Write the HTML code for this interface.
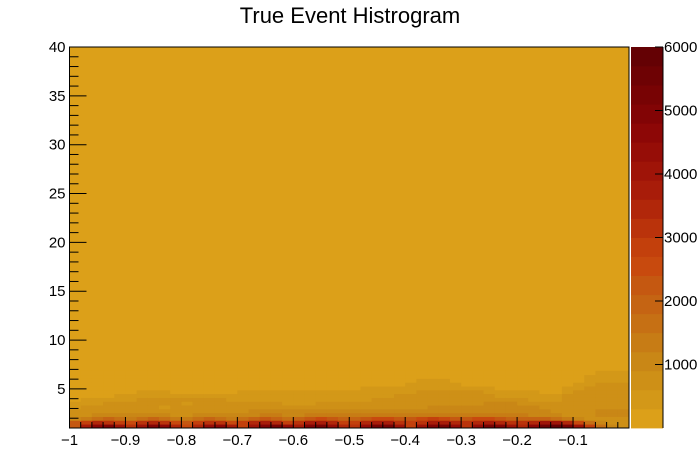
<!DOCTYPE html>
<html><head><meta charset="utf-8"><style>
html,body{margin:0;padding:0;background:#fff;}
svg{display:block;font-family:"Liberation Sans",sans-serif;}
</style></head><body>
<svg id="c" width="698" height="476" viewBox="0 0 698 476">
<text x="350" y="23" font-size="22" text-anchor="middle">True Event Histrogram</text>
<g id="cells"></g>
<g id="axes"></g>
<g id="pal"></g>
</svg>
<script>
// data: y bins of 0.39 starting at y=1, x bins of 0.02 from -1 to 0; values are palette levels (x300 counts)
const xBinEdges = [-1, 0];
const yRange = [1, 40];
const zRange = [0, 6000];
const xTicks = [-1,-0.9,-0.8,-0.7,-0.6,-0.5,-0.4,-0.3,-0.2,-0.1];
const xTickLabels = ["\u22121","\u22120.9","\u22120.8","\u22120.7","\u22120.6","\u22120.5","\u22120.4","\u22120.3","\u22120.2","\u22120.1"];
const yTicks = [5,10,15,20,25,30,35,40];
const zTicks = [1000,2000,3000,4000,5000,6000];
const row0 = [7,12,15,16,13, 10,13,16,15,11, 8,11,14,15,12, 9,13,16,17,14, 12,16,17,14,11, 10,14,17,17,13, 9,13,16,17,14, 10,14,17,16,13, 11,15,18,19,17, 13,9,5,3,2];
const row1 = [7,9,11,10,9, 8,10,11,10,8, 7,9,10,10,8, 9,11,12,11,9, 10,12,12,11,9, 9,11,12,12,10, 9,10,12,12,11, 10,11,12,11,10, 10,11,13,13,11, 8,5,3,2,2];
const row2 = [3,4,5,6,5, 4,5,6,5,4, 4,5,6,5,4, 5,6,7,6,5, 6,7,8,7,6, 6,7,8,8,7, 7,8,9,8,7, 7,8,8,7,6, 6,6,6,5,4, 3,2,2,2,2];
const row3 = [2,2,3,3,3, 3,3,3,3,2, 2,3,3,3,3, 3,3,4,4,3, 3,4,4,4,4, 4,4,4,4,4, 4,4,4,4,4, 4,4,4,4,4, 4,3,3,3,2, 2,2,3,3,3];
const row4 = [2,2,2,2,2, 2,2,2,2,2, 2,2,2,2,2, 2,3,3,3,3, 3,3,3,3,3, 3,3,3,3,3, 3,3,3,3,3, 3,3,3,3,3, 3,3,3,2,2, 2,2,3,3,3];
const row5 = [1,2,2,2,2, 2,2,2,1,2, 2,2,2,2,2, 2,2,2,2,2, 2,2,2,2,2, 2,2,2,2,2, 2,2,3,3,3, 3,3,3,3,3, 3,3,2,2,2, 2,2,2,2,2];
const row6 = [1,1,1,2,2, 2,2,2,2,2, 1,2,2,2,2, 2,2,2,2,1, 1,1,2,2,2, 2,2,2,2,2, 2,2,2,2,2, 2,2,3,3,3, 2,2,2,2,2, 2,2,2,2,2];
const row7 = [0,1,1,1,1, 1,2,2,2,2, 2,2,2,2,1, 1,1,1,1,1, 1,1,1,1,1, 1,1,2,2,2, 2,2,2,2,2, 2,2,2,2,2, 2,1,1,1,2, 2,2,2,2,2];
const row8 = [0,0,0,0,1, 1,1,1,1,1, 1,1,1,1,1, 1,1,1,1,1, 1,1,1,1,1, 1,1,1,1,2, 2,2,2,2,2, 2,2,2,1,1, 1,1,1,1,2, 2,2,2,2,2];
const row9 = [0,0,0,0,0, 0,1,1,1,0, 0,0,0,0,0, 1,1,1,1,1, 1,1,1,1,1, 1,1,1,1,1, 1,2,2,2,2, 2,2,1,1,1, 1,1,0,0,1, 2,2,2,2,2];
const row10 = [0,0,0,0,0, 0,0,0,0,0, 0,0,0,0,0, 0,0,0,0,0, 0,0,0,0,0, 0,1,1,1,1, 1,1,1,1,1, 1,1,1,0,0, 0,0,0,0,1, 1,2,2,2,2];
const row11 = [0,0,0,0,0, 0,0,0,0,0, 0,0,0,0,0, 0,0,0,0,0, 0,0,0,0,0, 0,0,0,0,0, 1,1,1,1,1, 0,0,0,0,0, 0,0,0,0,0, 1,1,2,2,2];
const row12 = [0,0,0,0,0, 0,0,0,0,0, 0,0,0,0,0, 0,0,0,0,0, 0,0,0,0,0, 0,0,0,0,0, 0,1,1,1,0, 0,0,0,0,0, 0,0,0,0,0, 0,1,1,1,1];
const row13 = [0,0,0,0,0, 0,0,0,0,0, 0,0,0,0,0, 0,0,0,0,0, 0,0,0,0,0, 0,0,0,0,0, 0,0,0,0,0, 0,0,0,0,0, 0,0,0,0,0, 0,1,1,1,1];
const row14 = [0,0,0,0,0, 0,0,0,0,0, 0,0,0,0,0, 0,0,0,0,0, 0,0,0,0,0, 0,0,0,0,0, 0,0,0,0,0, 0,0,0,0,0, 0,0,0,0,0, 0,0,1,1,1];
const rows = [row0,row1,row2,row3,row4,row5,row6,row7,row8,row9,row10,row11,row12,row13,row14];
const yBinWidth = 0.39;

const palette = ["#dca019","#d39818","#ce9017","#c98716","#c77c15","#c67014","#c56413","#c55811","#c84a0e","#c3400c","#ba330b","#b1270a","#a81c09","#9f1408","#960d07","#8d0706","#820405","#780304","#6e0204","#640104"];
const NS="http://www.w3.org/2000/svg";
const X0=69.5,X1=629,Y0=428,Y1=47;
const sx=v=>X0+(v-xBinEdges[0])/(xBinEdges[1]-xBinEdges[0])*(X1-X0);
const sy=v=>Y0-(v-yRange[0])/(yRange[1]-yRange[0])*(Y0-Y1);
const colorOf=c=>palette[Math.max(0,Math.min(19,Math.floor(c/(zRange[1]/20))))];
function mk(tag,attrs,parent){const e=document.createElementNS(NS,tag);for(const k in attrs)e.setAttribute(k,attrs[k]);parent.appendChild(e);return e;}
const cells=document.getElementById('cells'),axes=document.getElementById('axes'),pal=document.getElementById('pal');
const bg=mk('rect',{x:X0,y:Y1,width:X1-X0,height:Y0-Y1,fill:palette[0]},cells);


const nx=rows[0].length, dx=(xBinEdges[1]-xBinEdges[0])/nx;
rows.forEach((r,j)=>{r.forEach((lv,i)=>{
  const count=lv*300+150;
  const xa=sx(xBinEdges[0]+i*dx), xb=sx(xBinEdges[0]+(i+1)*dx);
  const ya=sy(yRange[0]+(j+1)*yBinWidth), yb=sy(yRange[0]+j*yBinWidth);
  const e=mk('rect',{x:xa,y:ya,width:xb-xa+0.4,height:yb-ya+0.4,fill:colorOf(count)},cells);
  
  
});});
const fr=mk('rect',{x:X0,y:Y1,width:X1-X0,height:Y0-Y1,fill:'none',stroke:'#000','stroke-width':1},axes);


for(let k=0;k<50;k++){const v=-1+k*0.02;const x=sx(v);const major=(k%5===0);
  const t=mk('line',{x1:x,x2:x,y1:Y0,y2:Y0-(major?11:6),stroke:'#000'},axes);
  
  }
xTicks.forEach((v,i)=>{const t=mk('text',{x:sx(v),y:Y0+17,'font-size':15,'text-anchor':'middle'},axes);t.textContent=xTickLabels[i];
  
  });
for(let v=2;v<=40;v++){const y=sy(v);const major=(v%5===0);
  const t=mk('line',{x1:X0,x2:X0+(major?17:9),y1:y,y2:y,stroke:'#000'},axes);
  
  }
yTicks.forEach(v=>{const t=mk('text',{x:X0-4,y:sy(v)+5,'font-size':15,'text-anchor':'end'},axes);t.textContent=String(v);
  
  });
const PX0=631,PX1=663;
const pz=v=>Y0-(v-zRange[0])/(zRange[1]-zRange[0])*(Y0-Y1);
palette.forEach((c,i)=>{const ya=pz((i+1)*300),yb=pz(i*300);
  const e=mk('rect',{x:PX0,y:ya,width:PX1-PX0,height:yb-ya+0.4,fill:c},pal);
  
  });
const pl=mk('line',{x1:PX1,x2:PX1,y1:Y1,y2:Y0,stroke:'#000'},pal);


zTicks.forEach(v=>{const y=pz(v);
  const t=mk('line',{x1:PX1-8,x2:PX1,y1:y,y2:y,stroke:'#000'},pal);
  
  
  const l=mk('text',{x:PX1+1,y:y+5,'font-size':15},pal);l.textContent=String(v);
  
  });
</script>
</body></html>
